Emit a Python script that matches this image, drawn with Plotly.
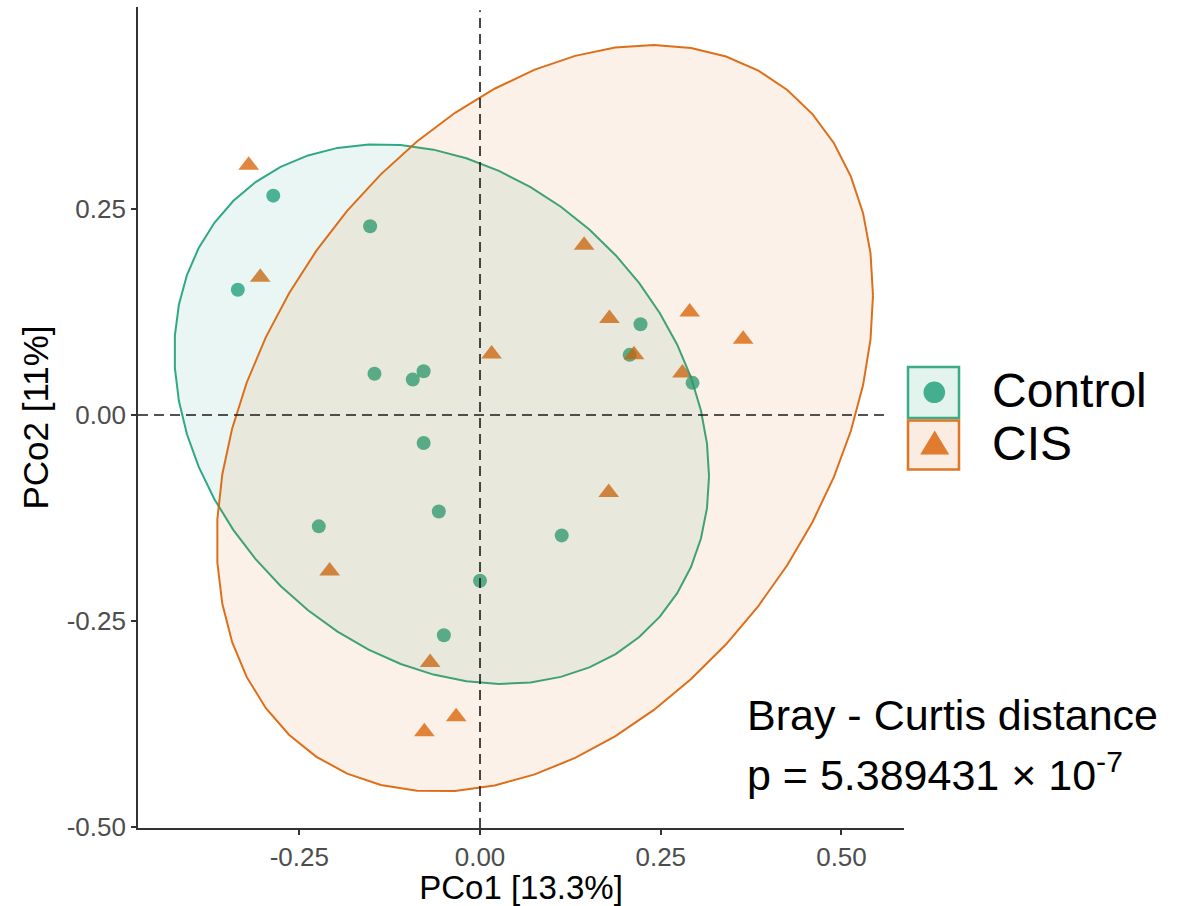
import numpy as np
import plotly.graph_objects as go

# ---- PCoA scores (Bray-Curtis) ----
groups = ["Control", "CIS"]

control_pco1 = [-0.286, -0.335, -0.152, -0.146, -0.093, -0.078, -0.078,
                -0.223, -0.057, 0.000, -0.050, 0.113, 0.222, 0.207, 0.294]
control_pco2 = [0.266, 0.152, 0.229, 0.050, 0.043, 0.053, -0.034,
                -0.135, -0.117, -0.201, -0.267, -0.146, 0.110, 0.073, 0.039]

cis_pco1 = [-0.320, -0.304, 0.016, 0.144, 0.179, 0.290, 0.364,
            0.213, 0.280, 0.178, -0.208, -0.069, -0.033, -0.077]
cis_pco2 = [0.303, 0.167, 0.074, 0.206, 0.117, 0.125, 0.092,
            0.073, 0.051, -0.094, -0.189, -0.300, -0.366, -0.384]

# 95% ellipse per group: centre, half-extent along each axis, correlation
ellipse_cx = [-0.0530, 0.0897]
ellipse_cy = [0.0012, -0.0039]
ellipse_rx = [0.3698, 0.4539]
ellipse_ry = [0.3273, 0.4527]
ellipse_rho = [-0.231, 0.329]

# axis ticks
x_tickvals = [-0.25, 0.00, 0.25, 0.50]
x_ticktext = ["-0.25", "0.00", "0.25", "0.50"]
y_tickvals = [-0.50, -0.25, 0.00, 0.25]
y_ticktext = ["-0.50", "-0.25", "0.00", "0.25"]

x_title = "PCo1 [13.3%]"
y_title = "PCo2 [11%]"
stat_line1 = "Bray - Curtis distance"
stat_line2 = "p = 5.389431 × 10<sup>-7</sup>"

# ---- styling ----
GREEN = "27,158,119"
ORANGE = "217,95,2"
W, H = 1186, 906
ML, MR, MT, MB = 138, 282, 7, 78
TICK_FONT = "Liberation Sans, Arial, sans-serif"
NOTE_FONT = "Liberation Sans, Arial, sans-serif"


def px_x(px):
    return (px - ML) / (W - ML - MR)


def px_y(py):
    return (H - MB - py) / (H - MT - MB)


def ellipse(cx, cy, rx, ry, rho, n=52):
    t = np.linspace(0, 2 * np.pi, n)
    x = cx + rx * np.cos(t)
    y = cy + ry * (rho * np.cos(t) + np.sqrt(1 - rho ** 2) * np.sin(t))
    return x, y


fig = go.Figure()

# points
fig.add_trace(go.Scatter(
    x=control_pco1, y=control_pco2, mode="markers", name=groups[0],
    marker=dict(symbol="circle", size=14, color=f"rgba({GREEN},0.76)",
                line=dict(width=0)),
    showlegend=False, hoverinfo="skip"))
fig.add_trace(go.Scatter(
    x=cis_pco1, y=cis_pco2, mode="markers", name=groups[1],
    marker=dict(symbol="triangle-up", size=18, color=f"rgba({ORANGE},0.76)",
                line=dict(width=0)),
    showlegend=False, hoverinfo="skip"))

# confidence ellipses
for i, col in enumerate([GREEN, ORANGE]):
    ex, ey = ellipse(ellipse_cx[i], ellipse_cy[i], ellipse_rx[i],
                     ellipse_ry[i], ellipse_rho[i])
    fig.add_trace(go.Scatter(
        x=ex, y=ey, mode="lines", fill="toself",
        fillcolor=f"rgba({col},0.09)",
        line=dict(color=f"rgba({col},0.9)", width=2),
        showlegend=False, hoverinfo="skip"))

# reference lines through the origin
dash_line = dict(color="#1a1a1a", width=1.6, dash="10px,6px")
fig.add_shape(type="line", xref="x domain", yref="y", x0=0, x1=0.977,
              y0=0, y1=0, line=dash_line)
fig.add_shape(type="line", xref="x", yref="y domain", x0=0, x1=0,
              y0=0, y1=0.996, line=dash_line)

# legend keys
key_boxes = [(908, 959, 367, 418), (908, 959, 420.5, 469.5)]
for (x0, x1, y0, y1), col in zip(key_boxes, [GREEN, ORANGE]):
    fig.add_shape(type="rect", xref="paper", yref="paper",
                  x0=px_x(x0), x1=px_x(x1), y0=px_y(y1), y1=px_y(y0),
                  fillcolor=f"rgba({col},0.12)",
                  line=dict(color=f"rgba({col},0.85)", width=2.5))
fig.add_shape(type="circle", xref="paper", yref="paper",
              x0=px_x(923.5), x1=px_x(945.1), y0=px_y(403.1), y1=px_y(381.5),
              fillcolor=f"rgba({GREEN},0.8)", line=dict(width=0))
tri = [(920.2, 454.5), (949.2, 454.5), (934.7, 430.5)]
path = "M {} {} L {} {} L {} {} Z".format(
    *[v for p in tri for v in (px_x(p[0]), px_y(p[1]))])
fig.add_shape(type="path", xref="paper", yref="paper", path=path,
              fillcolor=f"rgba({ORANGE},0.8)", line=dict(width=0))

for label, yc in zip(groups, [390, 443]):
    fig.add_annotation(text=label, xref="paper", yref="paper",
                       x=px_x(990), y=px_y(yc), xanchor="left",
                       yanchor="middle", showarrow=False,
                       font=dict(family=NOTE_FONT, size=48, color="black"))

fig.add_annotation(text=stat_line1, xref="paper", yref="paper",
                   x=px_x(745), y=px_y(715), xanchor="left", yanchor="middle",
                   showarrow=False,
                   font=dict(family=NOTE_FONT, size=43, color="black"))
fig.add_annotation(text=stat_line2, xref="paper", yref="paper",
                   x=px_x(745), y=px_y(772), xanchor="left", yanchor="middle",
                   showarrow=False,
                   font=dict(family=NOTE_FONT, size=43, color="black"))

axis_common = dict(
    showline=True, linecolor="#333333", linewidth=1.8,
    ticks="outside", ticklen=5, tickwidth=1.5, tickcolor="#333333",
    showgrid=False, zeroline=False, automargin=False,
    tickfont=dict(family=TICK_FONT, size=26, color="#4d4d4d"),
)

fig.update_layout(
    width=W, height=H,
    margin=dict(l=ML, r=MR, t=MT, b=MB, pad=0),
    paper_bgcolor="white", plot_bgcolor="white",
    showlegend=False,
    xaxis=dict(range=[-0.4731, 0.5865], tickvals=x_tickvals,
               ticktext=x_ticktext,
               title=dict(text=x_title, standoff=8,
                          font=dict(family=TICK_FONT, size=33,
                                    color="black")),
               **axis_common),
    yaxis=dict(range=[-0.5008, 0.4948], tickvals=y_tickvals,
               ticktext=y_ticktext,
               title=dict(text=y_title, standoff=7,
                          font=dict(family=TICK_FONT, size=35,
                                    color="black")),
               **axis_common),
)

fig.write_html("out.html")
